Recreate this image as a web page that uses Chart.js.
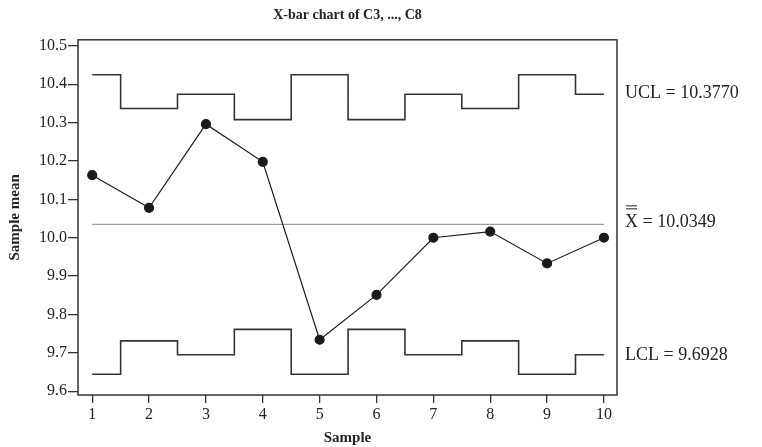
<!DOCTYPE html>
<html>
<head>
<meta charset="utf-8">
<script src="https://cdn.jsdelivr.net/npm/chart.js@4"></script>
<style>
  html, body { margin: 0; padding: 0; background: #fff; }
  #wrap { width: 762px; height: 447px; }
</style>
</head>
<body>
<div id="wrap"><canvas id="myChart" width="762" height="447"></canvas></div>
<script>
var samples = [1, 2, 3, 4, 5, 6, 7, 8, 9, 10];
var sampleMeans = [10.163, 10.078, 10.296, 10.198, 9.734, 9.851, 10.0, 10.016, 9.933, 10.0];
var ucl = [10.425, 10.337, 10.374, 10.308, 10.425, 10.308, 10.374, 10.337, 10.425, 10.374];
var lcl = [9.644, 9.731, 9.695, 9.761, 9.644, 9.761, 9.695, 9.731, 9.644, 9.695];
var centerLine = 10.0349;
var yTicks = [9.6, 9.7, 9.8, 9.9, 10.0, 10.1, 10.2, 10.3, 10.4, 10.5];
var limitValues = [10.3770, 10.0349, 9.6928];
var limitLabels = ['UCL = 10.3770', 'X = 10.0349', 'LCL = 9.6928'];

var serif = "'Liberation Serif', 'DejaVu Serif', serif";

function pts(ys) {
  return samples.map(function (s, i) { return {x: s, y: ys[i]}; });
}

var framePlugin = {
  id: 'frame',
  afterDraw: function (chart) {
    var c = chart.ctx, a = chart.chartArea, ys = chart.scales.y;
    c.save();
    c.strokeStyle = '#333';
    c.lineWidth = 1.5;
    c.strokeRect(a.left, a.top, a.right - a.left, a.bottom - a.top);
    c.fillStyle = '#222';
    c.font = '18px ' + serif;
    c.textBaseline = 'middle';
    c.textAlign = 'left';
    var x0 = a.right + 8;
    limitLabels.forEach(function (t, i) {
      var y = ys.getPixelForValue(limitValues[i]);
      if (i === 1) y -= 2;
      c.fillText(t, x0, y);
      if (i === 1) {
        // double bar over the X
        var w = c.measureText('X').width;
        c.strokeStyle = '#222';
        c.lineWidth = 1;
        c.beginPath();
        c.moveTo(x0 + 1, y - 13.5); c.lineTo(x0 + w - 1, y - 13.5);
        c.moveTo(x0 + 1, y - 16.5); c.lineTo(x0 + w - 1, y - 16.5);
        c.stroke();
      }
    });
    c.restore();
  }
};

var ctx = document.getElementById('myChart').getContext('2d');
var myChart = new Chart(ctx, {
  type: 'scatter',
  data: {
    datasets: [{
      data: pts(sampleMeans),
      showLine: true,
      borderColor: '#1a1a1a',
      backgroundColor: '#1a1a1a',
      borderWidth: 1.2,
      pointRadius: 4.5,
      pointHoverRadius: 4.5
    }, {
      data: pts(ucl),
      showLine: true,
      stepped: 'middle',
      borderColor: '#333',
      borderWidth: 1.6,
      pointRadius: 0
    }, {
      data: pts(lcl),
      showLine: true,
      stepped: 'middle',
      borderColor: '#333',
      borderWidth: 1.6,
      pointRadius: 0
    }, {
      data: [{x: samples[0], y: centerLine}, {x: samples[samples.length - 1], y: centerLine}],
      showLine: true,
      borderColor: '#888',
      borderWidth: 1,
      pointRadius: 0
    }]
  },
  options: {
    responsive: false,
    animation: false,
    layout: { padding: { right: 145, left: 0, top: 0, bottom: 0 } },
    scales: {
      x: {
        type: 'linear',
        min: 0.75,
        max: 10.23,
        afterBuildTicks: function (s) { s.ticks = samples.map(function (v) { return {value: v}; }); },
        afterFit: function (s) { s.height = 52; },
        grid: { drawOnChartArea: false, drawTicks: true, tickLength: 8, color: '#333', lineWidth: 1.3 },
        border: { display: false },
        ticks: { color: '#222', font: { family: serif, size: 16 }, padding: 2, maxRotation: 0 },
        title: { display: true, text: 'Sample', color: '#222', font: { family: serif, size: 15, weight: 'bold' }, padding: { top: 0, bottom: 0 } }
      },
      y: {
        min: 9.59,
        max: 10.516,
        afterBuildTicks: function (s) { s.ticks = yTicks.map(function (v) { return {value: v}; }); },
        afterFit: function (s) { s.width = 78; },
        grid: { drawOnChartArea: false, drawTicks: true, tickLength: 10, color: '#333', lineWidth: 1.3 },
        border: { display: false },
        ticks: { color: '#222', font: { family: serif, size: 16 }, padding: 1, callback: function (v) { return v.toFixed(1); } },
        title: { display: true, text: 'Sample mean', color: '#222', font: { family: serif, size: 15, weight: 'bold' }, padding: { top: 6, bottom: 0 } }
      }
    },
    plugins: {
      legend: { display: false },
      tooltip: { enabled: false },
      title: {
        display: true,
        fullSize: false,
        text: 'X-bar chart of C3, ..., C8',
        color: '#222',
        font: { family: serif, size: 14, weight: 'bold' },
        padding: { top: 7, bottom: 16 }
      }
    }
  },
  plugins: [framePlugin]
});
</script>
</body>
</html>
